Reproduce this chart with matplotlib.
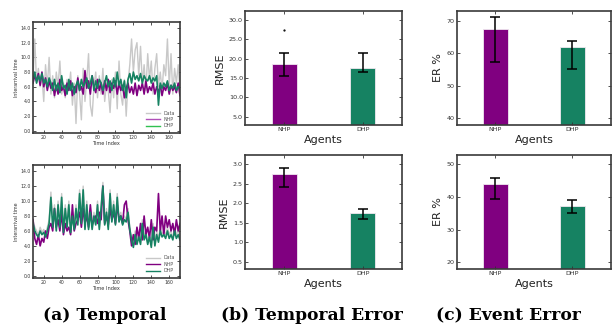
import numpy as np
import matplotlib.pyplot as plt
from matplotlib.lines import Line2D

# time index (every 2nd step)
t = np.arange(8, 173, 2)

# top temporal panel
top_data = [7.0, 12.5, 6.5, 8.5, 6.0, 7.5, 4.0, 9.0, 6.0, 10.0,
            5.0, 7.5, 4.5, 8.0, 6.0, 9.5, 5.0, 6.5, 4.5, 7.0,
            5.5, 8.0, 3.5, 6.5, 1.0, 7.5, 5.0, 1.5, 8.5, 4.0,
            7.0, 10.5, 3.5, 2.0, 6.0, 8.0, 4.5, 7.5, 5.0, 8.5,
            4.0, 6.5, 5.5, 2.5, 7.0, 4.5, 8.0, 3.0, 9.5, 5.0,
            3.5, 7.0, 2.0, 6.5, 9.0, 12.5, 8.0, 11.0, 12.0, 7.5,
            11.5, 6.5, 9.0, 5.5, 10.5, 7.0, 9.5, 5.0, 8.5, 10.5,
            6.0, 8.0, 5.5, 9.0, 7.5, 12.5, 6.0, 10.5, 5.0, 8.5,
            6.5, 9.0, 5.5]
top_nhp = [6.5, 7.5, 6.8, 7.8, 6.2, 8.0, 6.0, 7.2, 5.5, 6.8,
           5.8, 6.5, 4.8, 6.2, 5.0, 7.0, 5.5, 6.0, 4.8, 6.5,
           5.5, 6.8, 4.8, 6.0, 5.2, 7.2, 5.5, 6.0, 5.0, 8.2,
           5.8, 6.8, 5.0, 7.5, 6.0, 5.2, 7.0, 5.5, 6.5, 5.0,
           6.8, 5.5, 7.0, 5.2, 6.5, 5.8, 6.8, 5.0, 6.5, 5.5,
           6.2, 4.5, 5.8, 6.5, 5.2, 6.0, 5.0, 6.5, 4.8, 6.2,
           5.5, 6.5, 5.0, 6.8, 5.2, 6.0, 5.5, 6.5, 5.0, 6.0,
           5.2, 6.2, 4.8, 6.0, 5.5, 6.5, 5.0, 6.2, 5.5, 6.0,
           5.2, 6.5, 4.8]
top_dhp = [7.0, 8.0, 6.5, 7.5, 6.8, 7.8, 6.5, 7.0, 6.0, 7.2,
           6.5, 5.5, 7.0, 5.5, 6.5, 5.2, 7.5, 5.8, 6.2, 5.0,
           7.0, 5.5, 6.5, 5.0, 6.2, 6.8, 5.5, 7.0, 6.0, 6.5,
           7.2, 5.8, 6.5, 7.5, 5.5, 6.8, 5.8, 7.0, 6.5, 5.5,
           6.5, 7.5, 6.0, 6.8, 5.5, 7.2, 6.0, 8.0, 6.2, 7.0,
           5.5, 6.8, 4.5, 7.0, 7.8, 6.5, 8.0, 7.0, 7.5, 6.8,
           7.8, 6.5, 7.5, 7.0, 6.8, 7.5, 6.5, 7.2, 6.8, 7.5,
           3.5, 6.5, 5.8, 6.5, 6.0, 6.8, 5.5, 6.2, 5.8, 6.5,
           5.5, 6.0, 5.8]

# bottom temporal panel
bot_data = [7.5, 6.5, 6.0, 5.5, 6.5, 5.8, 6.2, 5.5, 6.5, 7.5,
            11.2, 7.0, 9.5, 6.5, 10.0, 7.0, 11.0, 6.0, 9.5, 7.0,
            10.0, 6.0, 8.5, 6.5, 9.5, 7.0, 11.5, 7.5, 12.0, 6.5,
            10.0, 6.5, 9.0, 6.5, 8.5, 7.0, 10.0, 6.5, 9.5, 12.5,
            7.0, 9.0, 6.5, 11.5, 7.5, 10.0, 7.0, 11.0, 7.5, 8.5,
            7.0, 8.0, 7.5, 9.0, 6.5, 5.0, 4.0, 6.0, 4.5, 5.5,
            4.5, 7.5, 5.0, 6.0, 4.5, 5.5, 4.0, 7.0, 4.5, 6.0,
            5.0, 6.5, 5.5, 6.0, 5.5, 6.5, 5.5, 6.0, 5.0, 6.5,
            5.5, 6.0, 5.2]
bot_nhp = [7.5, 5.0, 4.2, 5.5, 4.0, 5.0, 4.5, 6.0, 5.0, 6.5,
           7.0, 6.0, 9.0, 6.5, 7.5, 6.0, 8.5, 5.5, 7.0, 6.0,
           6.5, 5.5, 9.5, 6.0, 7.0, 7.5, 8.5, 6.5, 9.0, 7.0,
           8.0, 6.5, 9.5, 6.8, 7.5, 8.0, 7.0, 8.5, 7.5, 12.0,
           7.0, 8.0, 6.8, 9.0, 7.5, 8.5, 7.0, 9.5, 7.5, 8.0,
           7.0, 9.5, 10.0, 7.5, 6.0, 4.0, 5.5, 4.2, 6.5, 5.0,
           7.0, 4.8, 8.0, 5.5, 6.5, 5.0, 7.5, 4.8, 6.5, 6.0,
           11.0, 6.0, 8.0, 5.5, 8.0, 6.5, 7.5, 6.0, 7.0, 5.5,
           7.5, 6.0, 7.0]
bot_dhp = [7.0, 6.0, 5.5, 5.2, 6.0, 5.5, 5.8, 5.2, 6.0, 7.0,
           10.5, 6.5, 9.0, 6.0, 9.5, 6.5, 10.5, 5.8, 9.0, 6.5,
           9.5, 5.8, 8.0, 6.2, 9.0, 6.8, 11.0, 7.0, 11.5, 6.2,
           9.5, 6.2, 8.5, 6.2, 8.0, 6.8, 9.5, 6.2, 9.0, 12.0,
           6.8, 8.5, 6.2, 11.0, 7.2, 9.5, 6.8, 10.5, 7.2, 8.0,
           6.8, 7.5, 7.2, 8.5, 6.2, 4.8, 3.8, 5.5, 4.2, 5.2,
           4.2, 7.0, 4.8, 5.5, 4.2, 5.2, 3.8, 6.5, 4.0, 5.5,
           4.5, 6.0, 5.2, 5.5, 5.0, 6.0, 5.0, 5.5, 4.8, 6.0,
           5.0, 5.5, 4.8]

# error bar panels
agents = ['NHP', 'DHP']
rmse_top = [18.5, 17.6]
rmse_top_lo = [15.5, 16.5]
rmse_top_hi = [21.5, 21.5]
rmse_top_flier = 27.4
rmse_bot = [2.75, 1.76]
rmse_bot_lo = [2.42, 1.60]
rmse_bot_hi = [2.90, 1.84]
er_top = [67.5, 61.8]
er_top_lo = [57.2, 55.1]
er_top_hi = [71.2, 63.9]
er_bot = [44.0, 37.1]
er_bot_lo = [39.5, 35.2]
er_bot_hi = [45.8, 39.2]

purple = '#800080'
teal = '#168262'
gray = '#c8c8c8'
spine_col = '#3a3a3a'

fig = plt.figure(figsize=(6.13, 3.31), dpi=100)


def style_axes(ax, fs):
    for s in ax.spines.values():
        s.set_color(spine_col)
        s.set_linewidth(1.2)
    ax.tick_params(direction='in', top=True, right=True, labelsize=fs,
                   length=2, width=0.6, pad=1.5, colors='#333333')


def temporal(rect, data, nhp, dhp, legend_cols):
    ax = fig.add_axes(rect)
    ax.plot(t, data, color=gray, lw=1.0)
    ax.plot(t, nhp, color=purple, lw=1.2)
    ax.plot(t, dhp, color=teal, lw=1.2)
    ax.set_xlim(8, 172)
    ax.set_ylim(-0.3, 14.8)
    ax.set_yticks(np.arange(0, 15, 2))
    ax.set_yticklabels(['%.1f' % v for v in np.arange(0, 15, 2)])
    ax.set_xticks(range(20, 161, 20))
    style_axes(ax, 3.3)
    ax.set_xlabel('Time Index', fontsize=3.6, labelpad=0.5, color='#333333')
    ax.set_ylabel('Interarrival time', fontsize=3.4, labelpad=1, color='#333333')
    handles = [Line2D([], [], color=c, lw=1.0) for c in legend_cols]
    ax.legend(handles, ['Data', 'NHP', 'DHP'], loc='lower right', frameon=False,
              fontsize=3.4, handlelength=3, labelspacing=0.3, borderaxespad=0.6,
              labelcolor='#555555')
    return ax


def bars(rect, vals, lo, hi, ylim, yticks, fmt, ylabel):
    ax = fig.add_axes(rect)
    x = np.arange(len(agents))
    err = [np.array(vals) - np.array(lo), np.array(hi) - np.array(vals)]
    ax.bar(x, vals, width=0.32, color=[purple, teal], edgecolor='#f0e8f0', lw=0.6)
    ax.errorbar(x, vals, yerr=err, fmt='none', ecolor='black', elinewidth=1.1,
                capsize=3.6, capthick=1.1)
    ax.set_xlim(-0.5, 1.5)
    ax.set_ylim(*ylim)
    ax.set_yticks(yticks)
    ax.set_yticklabels([fmt % v for v in yticks])
    ax.set_xticks(x)
    ax.set_xticklabels(agents)
    style_axes(ax, 4.6)
    ax.set_xlabel('Agents', fontsize=8, labelpad=2, color='#222222')
    ax.set_ylabel(ylabel, fontsize=8, labelpad=3, color='#222222')
    return ax


temporal([0.0538, 0.598, 0.2398, 0.3353], top_data, top_nhp, top_dhp,
         ['#c8c8c8', '#b050b8', '#30c050'])
temporal([0.0538, 0.160, 0.2398, 0.341], bot_data, bot_nhp, bot_dhp,
         ['#c8c8c8', purple, teal])

ax = bars([0.3997, 0.6224, 0.2561, 0.3444], rmse_top, rmse_top_lo, rmse_top_hi,
          (2.9, 32.3), [5, 10, 15, 20, 25, 30], '%.1f', 'RMSE')
ax.plot([0], [rmse_top_flier], marker='.', color='black', ms=1.2)
bars([0.3997, 0.1873, 0.2561, 0.3444], rmse_bot, rmse_bot_lo, rmse_bot_hi,
     (0.31, 3.24), [0.5, 1.0, 1.5, 2.0, 2.5, 3.0], '%.1f', 'RMSE')
bars([0.7455, 0.6224, 0.2512, 0.3444], er_top, er_top_lo, er_top_hi,
     (37.9, 73.0), [40, 50, 60, 70], '%d', 'ER %')
bars([0.7455, 0.1873, 0.2512, 0.3444], er_bot, er_bot_lo, er_bot_hi,
     (18.0, 52.8), [20, 30, 40, 50], '%d', 'ER %')

captions = ['(a) Temporal', '(b) Temporal Error', '(c) Event Error']
cap_x = [105, 312, 508]
for c, xp in zip(captions, cap_x):
    fig.text(xp / 613, 1 - 316 / 331, c, ha='center', va='center',
             fontsize=12.3, fontweight='bold', family='DejaVu Serif')

fig.savefig('out.png', dpi=100)
